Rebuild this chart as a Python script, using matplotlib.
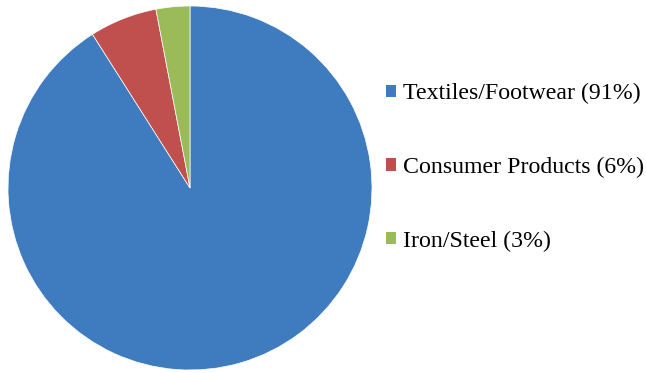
import matplotlib.pyplot as plt
from matplotlib.patches import Patch

# Data
categories = ["Textiles/Footwear", "Consumer Products", "Iron/Steel"]
shares = [91, 6, 3]
colors = ["#3F7CBF", "#C0504D", "#9BBB59"]

plt.rcParams['font.family'] = ['Liberation Serif', 'DejaVu Serif']

fig = plt.figure(figsize=(6.46, 3.73), dpi=100)
ax = fig.add_axes([8 / 646, 3 / 373, 364 / 646, 364 / 373])

ax.pie(shares, colors=colors, startangle=90, counterclock=False, radius=1,
       wedgeprops=dict(linewidth=0.5, edgecolor='white'))
ax.set_xlim(-1, 1)
ax.set_ylim(-1, 1)
ax.set_aspect('equal')

labels = [f"{c} ({s}%)" for c, s in zip(categories, shares)]
handles = [Patch(facecolor=col, edgecolor='none') for col in colors]
fig.legend(handles, labels, loc='center left',
           bbox_to_anchor=(376 / 646, 1 - 167.5 / 373),
           frameon=False, fontsize=17.2, handlelength=0.42, handleheight=0.42,
           handletextpad=0.3, labelspacing=2.2, borderaxespad=0)

fig.savefig("out.png", dpi=100)
